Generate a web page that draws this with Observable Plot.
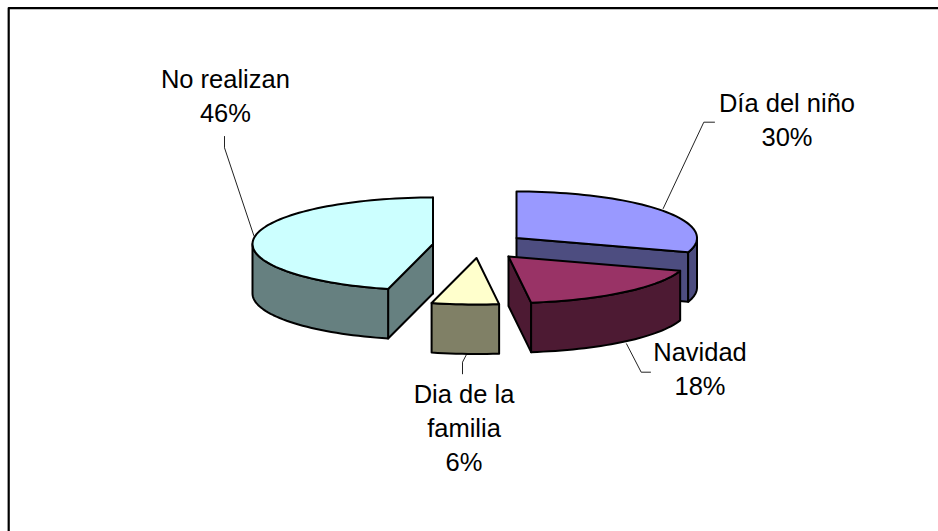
<!DOCTYPE html>
<html><head><meta charset="utf-8">
<script src="https://cdn.jsdelivr.net/npm/d3@7"></script>
<script src="https://cdn.jsdelivr.net/npm/@observablehq/plot@0.6"></script>
<style>html,body{margin:0;padding:0;background:#fff}svg{display:block}</style>
</head><body><div id="chart"></div>
<script>
const categories = ["No realizan", "Día del niño", "Navidad", "Dia de la familia"];
const shares = [46, 30, 18, 6];
const topColors = ["#CCFFFF", "#9999FF", "#993366", "#FFFFCC"];
const sideColors = ["#668080", "#4D4D80", "#4D1A33", "#808066"];
const labelLines = [["No realizan", "46%"], ["Día del niño", "30%"], ["Navidad", "18%"], ["Dia de la", "familia", "6%"]];

// Layout of the exploded 3D pie
const apexes = [[432.5, 243.5], [516, 237.5], [508, 256], [476, 257.5]];
const rx = 180.5, ry = 46.5, depth = 49.5;
const labelAnchors = [[224.9, 79], [786.5, 103.5], [699.5, 352.5], [463.5, 394.5]];
const lineStep = 34;
const leaders = [
  [[224, 136], [224, 147.3], [253.3, 235]],
  [[714, 121.7], [703.3, 121.7], [662.7, 208]],
  [[650, 371.7], [640.7, 371.7], [626, 343.3]],
  [[462, 373.3], [462, 361.7], [466, 354]]
];

// Cumulative angles, clockwise from 12 o'clock
const order = [1, 2, 3, 0];
const angles = [];
let acc = 0;
for (const i of order) { angles[i] = [acc, acc + shares[i] * 3.6]; acc += shares[i] * 3.6; }
const rad = d => d * Math.PI / 180;
const rim = (i, deg, dy = 0) => [apexes[i][0] + rx * Math.sin(rad(deg)), apexes[i][1] - ry * Math.cos(rad(deg)) + dy];
const arc = (i, a, b, dy = 0) => {
  const n = Math.max(2, Math.ceil(Math.abs(b - a) / 2)), out = [];
  for (let k = 0; k <= n; k++) out.push(rim(i, a + (b - a) * k / n, dy));
  return out;
};

const polys = [];
let pid = 0;
function add(points, fill) {
  const id = pid++;
  for (const [x, y] of points) polys.push({x, y, id, fill});
}
function slice(i) {
  const [a, b] = angles[i], A = apexes[i];
  const side = sideColors[i];
  const wall = (p, q) => add([[p[0], p[1]], [q[0], q[1]], [q[0], q[1] + depth], [p[0], p[1] + depth]], side);
  if (i === 0) { wall(A, rim(0, 360)); wall(A, rim(0, a)); }
  if (i === 1) wall(A, rim(1, b));
  if (i === 2) wall(A, rim(2, b));
  const lo = Math.max(a, 90), hi = Math.min(b, 270);
  if (hi > lo) add([...arc(i, lo, hi), ...arc(i, hi, lo, depth)], side);
  add([A, ...arc(i, a, b)], topColors[i]);
}
[0, 1, 2, 3].forEach(slice);

const labels = labelLines.flatMap((lines, i) => lines.map((t, k) => ({t, x: labelAnchors[i][0], y: labelAnchors[i][1] + k * lineStep})));
const leaderRows = leaders.flatMap((pts, id) => pts.map(([x, y]) => ({x, y, id})));

const frame = [{x: 8.2, y: 531}, {x: 8.2, y: 7.7}, {x: 938, y: 7.7}];

const chart = Plot.plot({
  width: 938, height: 531, margin: 0,
  x: {domain: [0, 938], range: [0, 938], axis: null},
  y: {domain: [0, 531], range: [0, 531], axis: null},
  marks: [
    Plot.line(frame, {x: "x", y: "y", stroke: "#000", strokeWidth: 2.2}),
    Plot.line(leaderRows, {x: "x", y: "y", z: "id", stroke: "#222", strokeWidth: 1}),
    Plot.line(polys, {x: "x", y: "y", z: "id", fill: d => d.fill, stroke: "#000", strokeWidth: 2, strokeLinejoin: "round", curve: "linear-closed"}),
    Plot.text(labels, {x: "x", y: "y", text: "t", fontSize: 25.5, fontFamily: "Liberation Sans", fill: "#000", textAnchor: "middle"})
  ]
});
document.getElementById("chart").appendChild(chart);
</script></body></html>
